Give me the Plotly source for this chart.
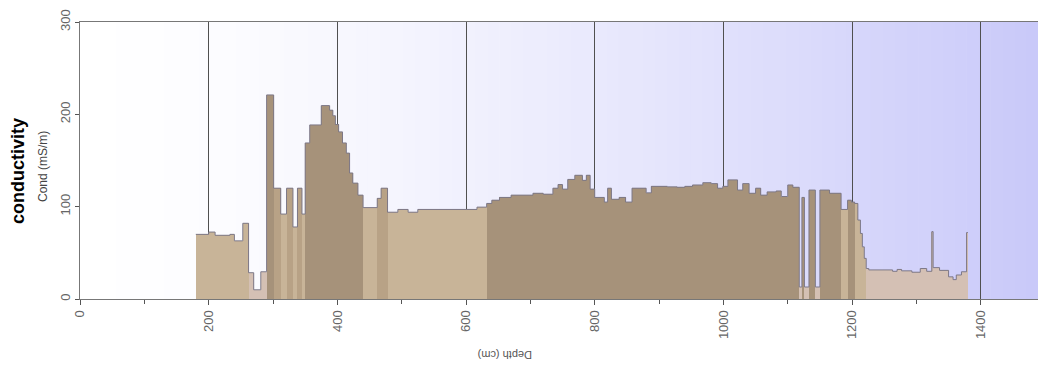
import plotly.graph_objects as go

# ---- data: step profile of conductivity vs depth ----
depth_edges = [180, 200, 210, 233, 240, 253, 262, 270, 281, 290, 301, 312, 321, 331, 338, 345,
               350, 357, 375, 388, 393, 397, 402, 408, 414, 419, 424, 432, 440, 462, 468, 478,
               494, 510, 525, 617, 632, 640, 652, 670, 704, 720, 735, 743, 750, 758, 769, 781,
               787, 793, 800, 815, 820, 826, 838, 848, 858, 880, 888, 913, 928, 940, 952, 968,
               981, 991, 999, 1007, 1022, 1030, 1040, 1050, 1058, 1068, 1082, 1090, 1100, 1108,
               1118, 1122, 1126, 1133, 1143, 1150, 1165, 1183, 1193, 1199, 1204, 1209, 1213,
               1216, 1219, 1222, 1226, 1263, 1270, 1277, 1293, 1306, 1316, 1324, 1326, 1336,
               1350, 1357, 1362, 1370, 1378, 1380]
cond_values = [70, 72.5, 69, 70, 63, 82, 28.5, 10, 29.5, 221, 120, 92, 120, 78, 120, 92,
               169, 188.5, 209.5, 204.5, 198.5, 189, 181, 169, 158, 136.5, 125.5, 112.5, 99, 109, 120, 94,
               97, 94, 97, 99.5, 103.5, 107, 110, 112.5, 114.5, 113.5, 120, 124, 119, 129.5, 134, 128.5,
               134, 119, 110, 105, 120, 108, 110, 105, 120, 115, 122, 121.5, 121, 122, 123.5, 126,
               125, 120, 122, 129, 118, 125, 114.5, 120, 112.5, 116, 117, 111, 123.5, 121,
               13, 110, 13, 118, 13, 118, 114.5, 97, 107, 105, 103.5, 85.5, 71,
               56.5, 44, 33, 31.5, 30, 32, 30.5, 29, 33, 30, 73, 34,
               31, 24, 21, 26, 29.5, 72]
# sediment class of each segment (0 light, 1 dark, 2 pale, 3 mid)
segment_class = [0, 0, 0, 0, 0, 0, 2, 2, 2, 1, 3, 0, 3, 0, 3, 0,
                 1, 1, 1, 1, 1, 1, 1, 1, 1, 1, 1, 1, 0, 3, 3, 0,
                 0, 0, 0, 0, 1, 1, 1, 1, 1, 1, 1, 1, 1, 1, 1, 1,
                 1, 1, 1, 1, 1, 1, 1, 1, 1, 1, 1, 1, 1, 1, 1, 1,
                 1, 1, 1, 1, 1, 1, 1, 1, 1, 1, 1, 1, 1, 1,
                 2, 1, 2, 1, 2, 1, 1, 0, 1, 1, 0, 0, 0,
                 0, 0, 2, 2, 2, 2, 2, 2, 2, 2, 2, 2,
                 2, 2, 2, 2, 2, 2]
x_ticks = [0, 200, 400, 600, 800, 1000, 1200, 1400]
y_ticks = [0, 100, 200, 300]

class_colors = {0: "rgb(200,180,152)", 1: "rgb(166,146,122)", 2: "rgb(212,192,180)", 3: "rgb(184,162,134)"}

widths = [depth_edges[i + 1] - depth_edges[i] for i in range(len(cond_values))]
colors = [class_colors[c] for c in segment_class]

fig = go.Figure()
fig.add_trace(go.Bar(x=depth_edges[:-1], y=cond_values, width=widths, offset=0,
                     marker=dict(color=colors, line=dict(width=0)), showlegend=False,
                     hoverinfo="skip"))
fig.add_trace(go.Scatter(x=depth_edges, y=cond_values + [cond_values[-1]], mode="lines",
                         line=dict(shape="hv", color="rgb(125,120,135)", width=1),
                         showlegend=False, hoverinfo="skip"))

# background gradient white -> lavender
XMAX = 1489
n = 80
shapes = []
for i in range(n):
    t0 = i / n
    t = ((i + 0.5) / n) ** 1.5
    r = round(255 - 55 * t)
    g = round(255 - 55 * t)
    b = round(255 - 6 * t)
    shapes.append(dict(type="rect", xref="x", yref="paper", x0=t0 * XMAX, x1=(i + 1) / n * XMAX + 1,
                       y0=0, y1=1, fillcolor=f"rgb({r},{g},{b})", line=dict(width=0), layer="below"))

font_tick = dict(family="Liberation Sans, Arial, sans-serif", size=13, color="#666")

fig.update_layout(
    width=1038, height=376,
    margin=dict(l=80, r=0, t=22, b=77),
    paper_bgcolor="white", plot_bgcolor="white",
    shapes=shapes,
    bargap=0,
    xaxis=dict(range=[0, XMAX], tickmode="array", tickvals=x_ticks, ticktext=[str(v) for v in x_ticks],
               tickangle=-90, tickfont=font_tick, ticks="outside", ticklen=5, tickcolor="#555",
               showgrid=True, gridcolor="#505050", gridwidth=1, zeroline=False, automargin=False,
               showline=True, linecolor="#777", linewidth=1, mirror=True,
               minor=dict(dtick=100, tick0=0, ticks="outside", ticklen=4, tickcolor="#555", showgrid=False)),
    yaxis=dict(range=[0, 300], tickmode="array", tickvals=y_ticks, ticktext=[str(v) for v in y_ticks],
               tickangle=-90, tickfont=font_tick, ticks="outside", ticklen=4, tickcolor="#555",
               automargin=False,
               showgrid=False, zeroline=False, showline=True, linecolor="#777", linewidth=1),
    annotations=[
        dict(text="<b>conductivity</b>", xref="paper", yref="paper", x=-80 / 958 + 18 / 958, y=(299 - 171) / 277,
             xanchor="center", yanchor="middle", textangle=-90, showarrow=False,
             font=dict(family="Liberation Sans, Arial, sans-serif", size=18, color="black")),
        dict(text="Cond (mS/m)", xref="paper", yref="paper", x=-80 / 958 + 43 / 958, y=(299 - 167) / 277,
             xanchor="center", yanchor="middle", textangle=-90, showarrow=False,
             font=dict(family="Liberation Sans, Arial, sans-serif", size=12, color="#444")),
        dict(text="Depth (cm)", xref="paper", yref="paper", x=(505 - 80) / 958, y=-(355 - 299) / 277,
             xanchor="center", yanchor="middle", textangle=180, showarrow=False,
             font=dict(family="Liberation Sans, Arial, sans-serif", size=11, color="#555")),
    ],
)

fig.write_html("out.html", config={"displayModeBar": False},
               post_script="document.body.style.margin='0';document.body.style.overflow='hidden';")
